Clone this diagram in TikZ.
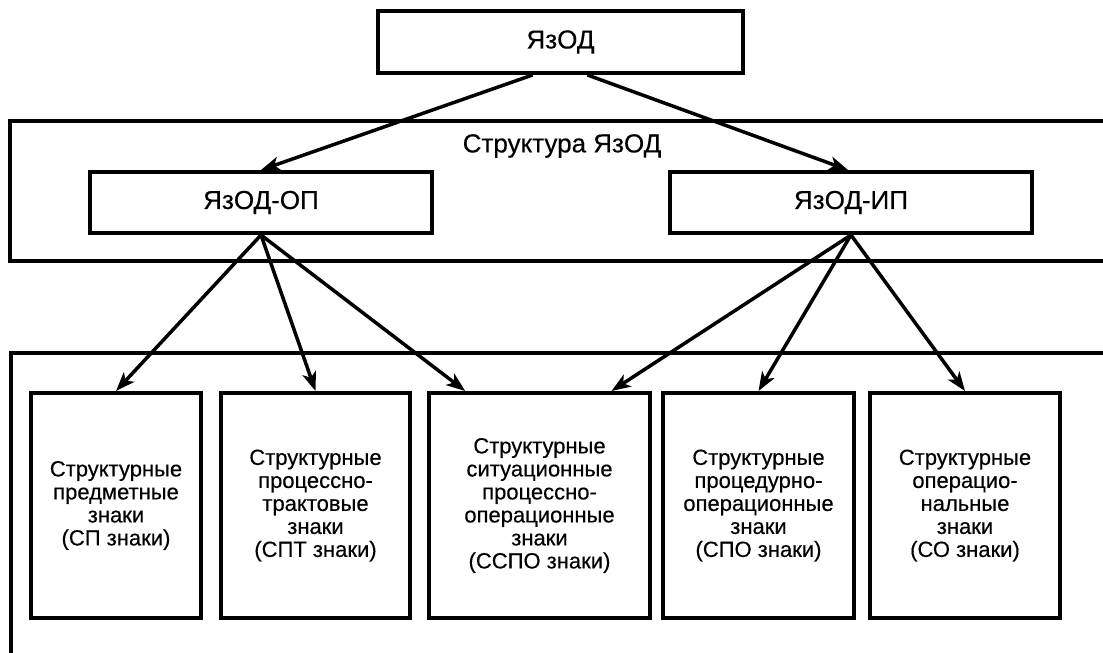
\documentclass[tikz,border=0pt]{standalone}
\usepackage{fontspec}
\setmainfont{Liberation Sans}
\newfontfamily\semibold{Liberation Sans}[FakeBold=0.35]
\usetikzlibrary{arrows.meta,calc}
\tikzset{
  frameline/.style={line width=3.5pt},
  toplabel/.style={font=\semibold\fontsize{26}{30}\selectfont},
  topbox/.style={draw, line width=4pt, rectangle, inner sep=0pt, toplabel},
  signbox/.style={draw, line width=4pt, rectangle, inner sep=0pt, align=center,
     minimum height=225pt, font=\semibold\fontsize{22}{23}\selectfont},
  arr/.style={line width=3.5pt, -{Stealth[length=19pt,width=14pt,inset=5pt]}},
}
\begin{document}
\begin{tikzpicture}[x=1pt,y=-1pt]
\useasboundingbox (0,0) rectangle (1103,653);
% frames
\draw[frameline] (1103,121) -- (10,121) -- (10,261) -- (1103,261);
\draw[frameline] (1103,353) -- (11,353) -- (11,653);
\node[toplabel] (lbl) at (562,146) {Структура ЯзОД};
% top boxes
\node[topbox, minimum width=365pt, minimum height=62pt] (top) at (560.5,42) {ЯзОД};
\node[topbox, minimum width=342pt, minimum height=61pt] (op) at (261,202.5) {ЯзОД-ОП};
\node[topbox, minimum width=362pt, minimum height=61pt] (ip) at (851,202.5) {ЯзОД-ИП};
% sign boxes
\node[signbox, minimum width=170pt] (b1) at (116,505.5) {Структурные\\предметные\\знаки\\(СП знаки)};
\node[signbox, minimum width=189pt] (b2) at (315.5,505.5) {Структурные\\процессно-\\трактовые\\знаки\\(СПТ знаки)};
\node[signbox, minimum width=221pt] (b3) at (539.5,505.5) {Структурные\\ситуационные\\процессно-\\операционные\\знаки\\(ССПО знаки)};
\node[signbox, minimum width=191pt] (b4) at (758.5,505.5) {Структурные\\процедурно-\\операционные\\знаки\\(СПО знаки)};
\node[signbox, minimum width=190pt] (b5) at (965,505.5) {Структурные\\операцио-\\нальные\\знаки\\(СО знаки)};
% connectors
\draw[arr] ($(top.south)+(-28,0)$) -- (op.north);
\draw[arr] ($(top.south)+(27,0)$) -- ($(ip.north)+(-3,0)$);
\draw[arr] (op.south) -- (b1.north);
\draw[arr] (op.south) -- (b2.north);
\draw[arr] (op.south) -- ($(b3.north west)!0.17!(b3.north east)$);
\draw[arr] (ip.south) -- ($(b3.north west)!0.82!(b3.north east)$);
\draw[arr] (ip.south) -- (b4.north);
\draw[arr] (ip.south) -- (b5.north);
\end{tikzpicture}
\end{document}
